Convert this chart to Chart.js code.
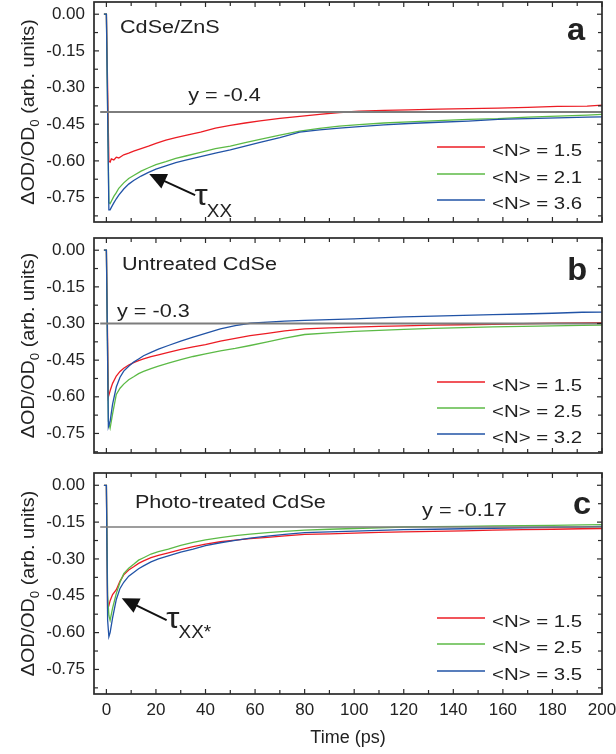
<!DOCTYPE html>
<html>
<head>
<meta charset="utf-8">
<style>
html,body{margin:0;padding:0;background:#fff;width:616px;height:754px;overflow:hidden}
.panel{position:absolute;left:0;width:616px}
canvas{display:block}
</style>
<script src="https://cdn.jsdelivr.net/npm/chart.js@4.4.1/dist/chart.umd.min.js"></script>
</head>
<body>
<div class="panel" style="top:0px;height:230px"><canvas id="ca" width="616" height="230"></canvas></div>
<div class="panel" style="top:230px;height:230px"><canvas id="cb" width="616" height="230"></canvas></div>
<div class="panel" style="top:460px;height:294px"><canvas id="cc" width="616" height="294"></canvas></div>
<script>
// ---------------- DATA ----------------
const xTickValues = [0, 20, 40, 60, 80, 100, 120, 140, 160, 180, 200];
const xMinorValues = [10, 30, 50, 70, 90, 110, 130, 150, 170, 190];
const yTickValues = [0, -0.15, -0.30, -0.45, -0.60, -0.75];
const yMinorValues = [-0.075, -0.225, -0.375, -0.525, -0.675, -0.825];
const seriesColors = ['#ec1c24', '#5cba46', '#2153a6'];

// Panel a : CdSe/ZnS
const timeA  = [-1, 0, 1, 1.5, 2, 3, 4, 5, 7, 9, 11, 14, 17, 20, 24, 28, 32, 38, 44, 50, 56, 62, 70, 78, 86, 94, 102, 112, 122, 134, 146, 158, 170, 182, 194, 200];
const redA   = [0, 0, -0.600, -0.605, -0.592, -0.596, -0.585, -0.588, -0.575, -0.568, -0.560, -0.550, -0.540, -0.528, -0.515, -0.505, -0.496, -0.482, -0.466, -0.455, -0.445, -0.436, -0.426, -0.418, -0.410, -0.402, -0.397, -0.393, -0.391, -0.388, -0.386, -0.384, -0.381, -0.377, -0.376, -0.372];
const greenA = [0, 0, -0.770, -0.775, -0.765, -0.745, -0.730, -0.712, -0.690, -0.672, -0.660, -0.642, -0.628, -0.615, -0.603, -0.590, -0.580, -0.565, -0.550, -0.540, -0.525, -0.512, -0.495, -0.478, -0.467, -0.458, -0.452, -0.445, -0.440, -0.435, -0.430, -0.427, -0.421, -0.417, -0.413, -0.410];
const blueA  = [0, 0, -0.800, -0.800, -0.790, -0.772, -0.755, -0.740, -0.715, -0.695, -0.680, -0.662, -0.647, -0.634, -0.620, -0.607, -0.597, -0.583, -0.568, -0.555, -0.540, -0.524, -0.505, -0.482, -0.473, -0.466, -0.460, -0.453, -0.447, -0.442, -0.437, -0.430, -0.427, -0.424, -0.421, -0.420];
const labelsA = ['<N> = 1.5', '<N> = 2.1', '<N> = 3.6'];
const refA = -0.4;

// Panel b : Untreated CdSe
const timeB  = [-1, 0, 0.8, 1.5, 2.5, 4, 5.5, 7, 9, 11, 13, 15, 18, 21, 25, 30, 35, 40, 46, 52, 58, 65, 72, 80, 90, 100, 110, 120, 132, 144, 156, 168, 180, 192, 200];
const redB   = [0, 0, -0.600, -0.575, -0.545, -0.515, -0.496, -0.483, -0.470, -0.460, -0.452, -0.445, -0.436, -0.428, -0.418, -0.406, -0.396, -0.386, -0.372, -0.361, -0.350, -0.340, -0.330, -0.322, -0.318, -0.315, -0.312, -0.310, -0.307, -0.305, -0.303, -0.301, -0.299, -0.297, -0.296];
const greenB = [0, 0, -0.700, -0.728, -0.670, -0.590, -0.565, -0.548, -0.530, -0.518, -0.505, -0.496, -0.485, -0.474, -0.462, -0.448, -0.435, -0.424, -0.412, -0.402, -0.390, -0.375, -0.360, -0.345, -0.338, -0.332, -0.328, -0.324, -0.320, -0.317, -0.314, -0.312, -0.310, -0.308, -0.307];
const blueB  = [0, 0, -0.723, -0.700, -0.630, -0.560, -0.520, -0.495, -0.475, -0.458, -0.445, -0.432, -0.418, -0.405, -0.390, -0.372, -0.356, -0.340, -0.322, -0.309, -0.299, -0.294, -0.290, -0.287, -0.284, -0.281, -0.277, -0.273, -0.270, -0.267, -0.264, -0.261, -0.258, -0.254, -0.253];
const labelsB = ['<N> = 1.5', '<N> = 2.5', '<N> = 3.2'];
const refB = -0.3;

// Panel c : Photo-treated CdSe
const timeC  = [-1, 0, 0.5, 1, 1.5, 2.5, 4, 5.5, 7, 9, 11, 13, 15, 18, 21, 25, 30, 35, 40, 46, 52, 58, 65, 72, 80, 90, 100, 110, 120, 132, 144, 156, 168, 180, 192, 200];
const redC   = [0, 0, -0.505, -0.490, -0.470, -0.445, -0.425, -0.390, -0.365, -0.345, -0.332, -0.318, -0.308, -0.295, -0.285, -0.275, -0.262, -0.250, -0.240, -0.230, -0.223, -0.217, -0.212, -0.206, -0.200, -0.198, -0.195, -0.192, -0.190, -0.188, -0.186, -0.183, -0.181, -0.179, -0.177, -0.176];
const greenC = [0, 0, -0.450, -0.530, -0.550, -0.500, -0.440, -0.395, -0.360, -0.338, -0.322, -0.305, -0.295, -0.280, -0.270, -0.260, -0.245, -0.233, -0.222, -0.213, -0.205, -0.199, -0.193, -0.188, -0.183, -0.179, -0.176, -0.173, -0.170, -0.168, -0.167, -0.165, -0.164, -0.163, -0.161, -0.160];
const blueC  = [0, 0, -0.550, -0.617, -0.600, -0.540, -0.465, -0.420, -0.395, -0.370, -0.355, -0.340, -0.328, -0.312, -0.300, -0.288, -0.272, -0.260, -0.246, -0.234, -0.224, -0.215, -0.207, -0.200, -0.193, -0.190, -0.187, -0.184, -0.181, -0.179, -0.177, -0.175, -0.173, -0.171, -0.169, -0.167];
const labelsC = ['<N> = 1.5', '<N> = 2.5', '<N> = 3.5'];
const refC = -0.17;

// ---------------- DRAWING ----------------
const FONT = '"Liberation Sans", Arial, Helvetica, sans-serif';
const TXT = '#222';

function stretchText(ctx, txt, x, y, size, weight, sx, align) {
  ctx.save();
  ctx.font = (weight || 'normal') + ' ' + size + 'px ' + FONT;
  ctx.textBaseline = 'alphabetic';
  ctx.textAlign = 'left';
  const w = ctx.measureText(txt).width * sx;
  const x0 = align === 'right' ? x - w : (align === 'center' ? x - w / 2 : x);
  ctx.translate(x0, y);
  ctx.scale(sx, 1);
  ctx.fillText(txt, 0, 0);
  ctx.restore();
  return w;
}

const decor = {
  id: 'decor',
  afterDatasetsDraw(chart, args, o) {
    const ctx = chart.ctx, a = chart.chartArea, xs = chart.scales.x, ys = chart.scales.y;
    ctx.save();
    // frame
    ctx.strokeStyle = '#2a2a2a';
    ctx.lineWidth = 1.7;
    ctx.strokeRect(a.left, a.top, a.right - a.left, a.bottom - a.top);
    // inward ticks on all four sides
    ctx.lineWidth = 1.2;
    const seg = (x1, y1, x2, y2) => { ctx.beginPath(); ctx.moveTo(x1, y1); ctx.lineTo(x2, y2); ctx.stroke(); };
    const xt = (vals, len) => vals.forEach(v => { const p = xs.getPixelForValue(v); seg(p, a.bottom, p, a.bottom - len); seg(p, a.top, p, a.top + len); });
    const yt = (vals, len) => vals.forEach(v => { const p = ys.getPixelForValue(v); seg(a.left, p, a.left + len, p); seg(a.right, p, a.right - len, p); });
    xt(xTickValues, 5); xt(xMinorValues, 4);
    yt(yTickValues, 5); yt(yMinorValues, 4);

    ctx.fillStyle = TXT;
    // y-axis title with subscript
    {
      const sx = 1.1;
      const parts = [{t: '\u0394OD/OD', s: 18, dy: 0}, {t: '0', s: 12, dy: 5}, {t: ' (arb. units)', s: 18, dy: 0}];
      let total = 0;
      parts.forEach(p => { ctx.font = p.s + 'px ' + FONT; p.w = ctx.measureText(p.t).width * sx; total += p.w; });
      ctx.save();
      ctx.translate(34, (a.top + a.bottom) / 2);
      ctx.rotate(-Math.PI / 2);
      let cx = -total / 2;
      parts.forEach(p => { stretchText(ctx, p.t, cx, p.dy, p.s, 'normal', sx, 'left'); cx += p.w; });
      ctx.restore();
    }
    // texts positioned in data coordinates
    o.texts.forEach(t => {
      stretchText(ctx, t.text, xs.getPixelForValue(t.x), ys.getPixelForValue(t.y), t.size, t.weight, t.sx, t.align);
    });
    // arrow
    if (o.arrow) {
      const tx = xs.getPixelForValue(o.arrow.tip[0]), ty = ys.getPixelForValue(o.arrow.tip[1]);
      const bx = xs.getPixelForValue(o.arrow.tail[0]), by = ys.getPixelForValue(o.arrow.tail[1]);
      const dx = bx - tx, dy = by - ty, L = Math.hypot(dx, dy);
      const ux = dx / L, uy = dy / L, nx = -uy, ny = ux;
      const hl = 17, hw = 8;
      ctx.strokeStyle = '#111'; ctx.fillStyle = '#111'; ctx.lineWidth = 2;
      seg(tx + ux * (hl - 2), ty + uy * (hl - 2), bx, by);
      ctx.beginPath();
      ctx.moveTo(tx, ty);
      ctx.lineTo(tx + ux * hl + nx * hw, ty + uy * hl + ny * hw);
      ctx.lineTo(tx + ux * hl - nx * hw, ty + uy * hl - ny * hw);
      ctx.closePath(); ctx.fill();
      ctx.fillStyle = TXT;
    }
    // tau label
    if (o.tau) {
      const px = xs.getPixelForValue(o.tau.x), py = ys.getPixelForValue(o.tau.y);
      const w = stretchText(ctx, '\u03C4', px, py, 29, 'normal', 1.15, 'left');
      stretchText(ctx, o.tau.sub, px + w - 1, py + o.tau.dy, 18, 'normal', 1.05, 'left');
    }
    // legend
    if (o.legend) {
      const L = o.legend;
      chart.data.datasets.forEach((ds, i) => {
        if (i >= L.rows.length) return;
        const y = a.bottom - L.rows[i];
        ctx.strokeStyle = ds.borderColor; ctx.lineWidth = 1.6;
        seg(a.right - L.x0, y, a.right - L.x1, y);
        ctx.fillStyle = TXT;
        stretchText(ctx, ds.label, a.right - L.tx, y + 8.5, 17, 'normal', 1.2, 'left');
      });
    }
    ctx.restore();
  }
};

function makePanel(id, time, reds, greens, blues, labels, ref, refWidth, cfg) {
  const pts = arr => time.map((t, i) => ({x: t, y: arr[i]}));
  const datasets = [
    {label: labels[0], data: pts(reds), borderColor: seriesColors[0], order: 3},
    {label: labels[1], data: pts(greens), borderColor: seriesColors[1], order: 2},
    {label: labels[2], data: pts(blues), borderColor: seriesColors[2], order: 1},
    {label: 'ref', data: [{x: -2.5, y: ref}, {x: 200, y: ref}], borderColor: '#7d7d7d', borderWidth: refWidth, order: 0}
  ];
  datasets.forEach((d, i) => { d.pointRadius = 0; d.tension = 0; d.fill = false; if (i < 3) d.borderWidth = 1.3; });
  return new Chart(document.getElementById(id), {
    type: 'line',
    data: {datasets},
    plugins: [decor],
    options: {
      responsive: false,
      animation: false,
      devicePixelRatio: 1,
      layout: {padding: {top: cfg.padTop, right: 14, left: 0, bottom: 0}},
      plugins: {
        legend: {display: false},
        tooltip: {enabled: false},
        decor: cfg.decor
      },
      scales: {
        x: {
          type: 'linear', min: -5, max: 200,
          grid: {display: false, drawTicks: false},
          border: {display: false},
          ticks: {display: cfg.showX, autoSkip: false, maxRotation: 0, padding: 6, color: TXT, font: {family: FONT, size: 17}},
          title: {display: cfg.showX, text: 'Time (ps)', color: TXT, font: {family: FONT, size: 18}, padding: {top: 0, bottom: 5}},
          afterBuildTicks: s => { s.ticks = xTickValues.map(v => ({value: v})); },
          afterFit: s => { s.height = cfg.xHeight; s.paddingLeft = 0; s.paddingRight = 0; }
        },
        y: {
          type: 'linear', min: cfg.yMin, max: 0.05,
          grid: {display: false, drawTicks: false},
          border: {display: false},
          ticks: {padding: 9, color: TXT, font: {family: FONT, size: 17}, callback: v => v.toFixed(2)},
          afterBuildTicks: s => { s.ticks = yTickValues.map(v => ({value: v})); },
          afterFit: s => { s.width = 94; s.paddingTop = 0; s.paddingBottom = 0; }
        }
      }
    }
  });
}

makePanel('ca', timeA, redA, greenA, blueA, labelsA, refA, 2, {
  padTop: 2, xHeight: 8, yMin: -0.85, showX: false,
  decor: {
    texts: [
      {text: 'CdSe/ZnS', x: 5.5, y: -0.077, size: 18, sx: 1.2, align: 'left'},
      {text: 'y = -0.4', x: 33, y: -0.355, size: 18, sx: 1.2, align: 'left'},
      {text: 'a', x: 193.2, y: -0.105, size: 31, weight: 'bold', sx: 1.05, align: 'right'}
    ],
    arrow: {tip: [17.3, -0.654], tail: [35.8, -0.74]},
    tau: {x: 35.6, y: -0.78, sub: 'XX', dy: 12},
    legend: {x0: 165, x1: 117, tx: 110, rows: [75, 48, 22]}
  }
});

makePanel('cb', timeB, redB, greenB, blueB, labelsB, refB, 2, {
  padTop: 8, xHeight: 7, yMin: -0.83, showX: false,
  decor: {
    texts: [
      {text: 'Untreated CdSe', x: 6.3, y: -0.081, size: 18, sx: 1.2, align: 'left'},
      {text: 'y = -0.3', x: 4.3, y: -0.273, size: 18, sx: 1.2, align: 'left'},
      {text: 'b', x: 194, y: -0.122, size: 31, weight: 'bold', sx: 1.05, align: 'right'}
    ],
    legend: {x0: 165, x1: 117, tx: 110, rows: [71, 45, 19]}
  }
});

makePanel('cc', timeC, redC, greenC, blueC, labelsC, refC, 1.4, {
  padTop: 13, xHeight: 60, yMin: -0.85, showX: true,
  decor: {
    texts: [
      {text: 'Photo-treated CdSe', x: 11.5, y: -0.0925, size: 18, sx: 1.2, align: 'left'},
      {text: 'y = -0.17', x: 127.4, y: -0.125, size: 18, sx: 1.2, align: 'left'},
      {text: 'c', x: 195.6, y: -0.119, size: 31, weight: 'bold', sx: 1.05, align: 'right'}
    ],
    arrow: {tip: [6.2, -0.46], tail: [24.3, -0.549]},
    tau: {x: 24.2, y: -0.581, sub: 'XX*', dy: 10},
    legend: {x0: 165, x1: 117, tx: 110, rows: [76, 50, 23]}
  }
});
</script>
</body>
</html>
